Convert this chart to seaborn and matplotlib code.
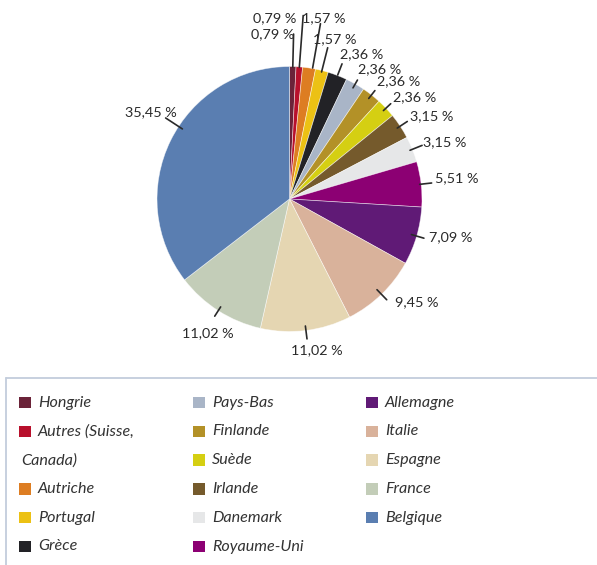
import matplotlib
matplotlib.use("Agg")
import matplotlib.pyplot as plt
import seaborn as sns
import numpy as np
from matplotlib.patches import Rectangle
from matplotlib.lines import Line2D

# ---------------- data ----------------
countries = ["Hongrie", "Autres (Suisse,\nCanada)", "Autriche", "Portugal", "Grèce",
             "Pays-Bas", "Finlande", "Suède", "Irlande", "Danemark", "Royaume-Uni",
             "Allemagne", "Italie", "Espagne", "France", "Belgique"]
shares = [0.79, 0.79, 1.57, 1.57, 2.36, 2.36, 2.36, 2.36, 3.15, 3.15, 5.51,
          7.09, 9.45, 11.02, 11.02, 35.45]
colors = ["#6b2339", "#b8102c", "#dd7d22", "#ecc114", "#222226", "#a9b5c7",
          "#b39127", "#d5cf12", "#755a2c", "#e6e7e8", "#8c0073", "#601a76",
          "#d9b29b", "#e5d6b2", "#c3cdb8", "#5a7eb1"]

# ---------------- layout ----------------
W, H = 597, 565
CX, CY, R = 289.5, 199, 132.5
# leader line radii (inner, outer) and angle tweak, label anchor (x, y, ha)
lead = [(132, 165, 0), (132, 184, 0), (133, 178, -1.5), (131, 156, 0), (133, 145, 0),
        (128, 137, 0), (128, 138, 0), (129, 139, 0), (129, 141, 0), (130, 143, 0),
        (131, 143, 0), (127, 140, 0), (126, 140, 0), (128, 141, 0), (128, 139, 0),
        (128, 148, -7)]
label_pos = [(294, 34, "right"), (296, 18, "right"), (302, 18, "left"), (313, 39, "left"),
             (340, 54, "left"), (358, 69, "left"), (377, 81, "left"), (393, 97, "left"),
             (410, 116, "left"), (423, 142, "left"), (435, 178, "left"), (429, 237, "left"),
             (395, 302, "left"), (317, 350, "center"), (208, 333, "center"),
             (177, 112, "right")]

sns.set_theme(style="white")
plt.rcParams["font.family"] = ["Lato", "DejaVu Sans"]

fig = plt.figure(figsize=(W / 100, H / 100), dpi=100)
ax = fig.add_axes([0, 0, 1, 1])


def Y(y):
    return H - y


wedges, _ = ax.pie(shares, colors=colors, startangle=90, counterclock=False,
                   center=(CX, Y(CY)), radius=R,
                   wedgeprops=dict(linewidth=0.5, edgecolor=(1, 1, 1, 0.6)))
ax.set_xlim(0, W)
ax.set_ylim(0, H)
ax.set_aspect("equal")
ax.axis("off")

txtcol = "#2a2a2a"
for w, v, (r1, r2, da), (tx, ty, ha) in zip(wedges, shares, lead, label_pos):
    ang = np.deg2rad((w.theta1 + w.theta2) / 2 + da)
    x1, y1 = CX + r1 * np.cos(ang), Y(CY) + r1 * np.sin(ang)
    x2, y2 = CX + r2 * np.cos(ang), Y(CY) + r2 * np.sin(ang)
    ax.add_line(Line2D([x1, x2], [y1, y2], color="#2a2a2a", lw=1.2))
    lab = f"{v:.2f}".replace(".", ",") + " %"
    ax.text(tx, Y(ty), lab, ha=ha, va="center", fontsize=10.4, color=txtcol)

# ---------------- legend ----------------
bc = "#c3cddc"
ax.add_line(Line2D([6, W], [Y(378), Y(378)], color=bc, lw=1.3))
ax.add_line(Line2D([6, 6], [Y(378), 0], color=bc, lw=1.3))

col_sq = [19, 193, 366]
col_tx = [38, 212, 385]
row0, pitch = 402.5, 28.8
col_rows = 6
col, row = 0, 0
sq = 11.5
for name, c in zip(countries, colors):
    lines = name.split("\n")
    if row + len(lines) > col_rows:
        col += 1
        row = 0
    yc = row0 + row * pitch
    ax.add_patch(Rectangle((col_sq[col], Y(yc) - sq / 2), sq, sq, color=c, lw=0))
    ax.text(col_tx[col], Y(yc), lines[0], ha="left", va="center", fontsize=11.6,
            style="italic", color="#333333")
    for k, extra in enumerate(lines[1:], start=1):
        ax.text(col_sq[col] + 2, Y(row0 + (row + k) * pitch), extra, ha="left",
                va="center", fontsize=11.6, style="italic", color="#333333")
    row += len(lines)
    if row >= col_rows:
        col += 1
        row = 0

fig.savefig("out.png", dpi=100, facecolor="white")
